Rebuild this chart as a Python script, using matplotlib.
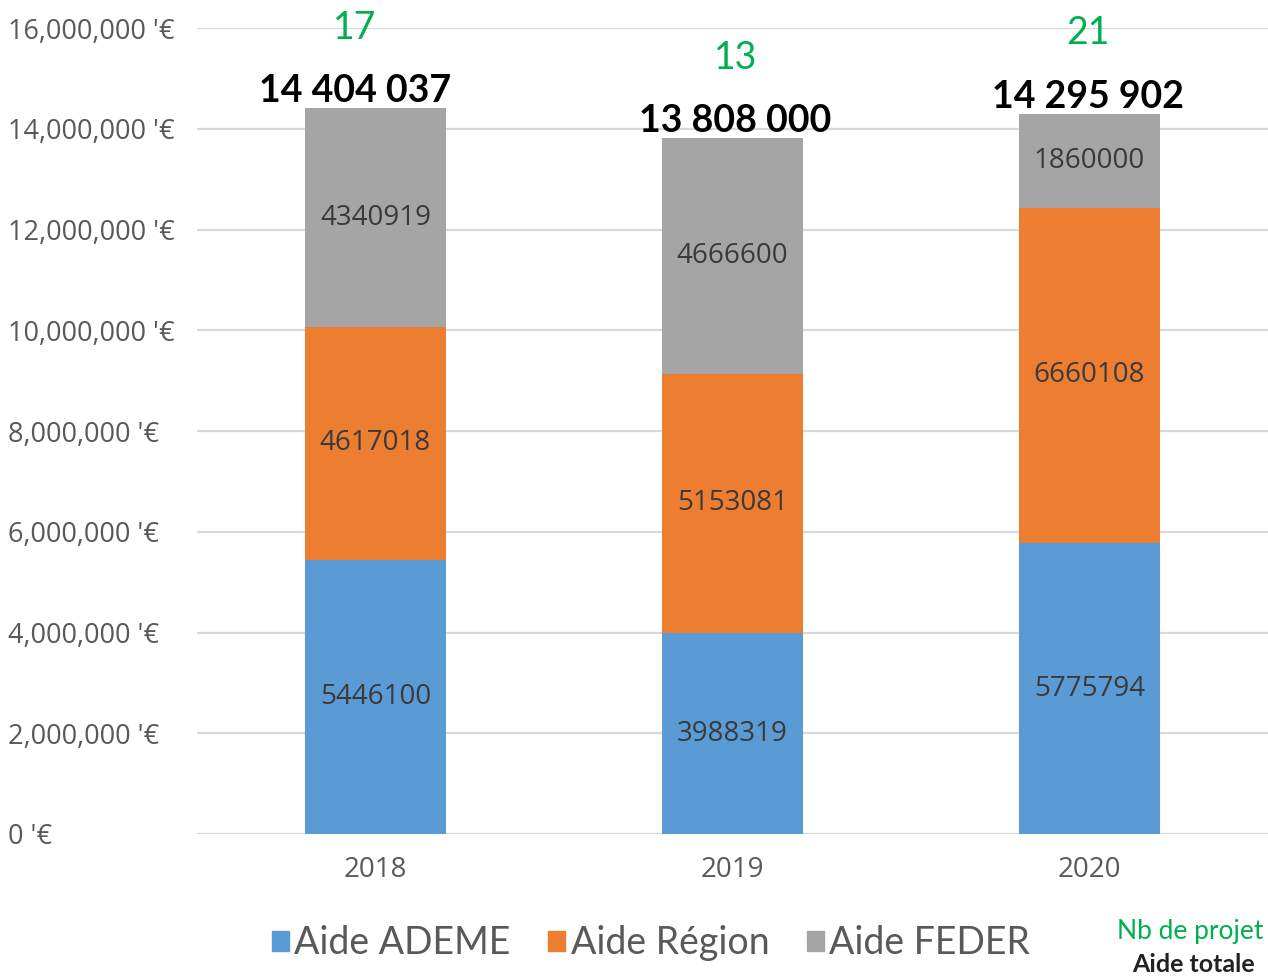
import matplotlib.pyplot as plt
from matplotlib.patches import Patch

years = ["2018", "2019", "2020"]
ademe = [5446100, 3988319, 5775794]
region = [4617018, 5153081, 6660108]
feder = [4340919, 4666600, 1860000]
nb_projets = [17, 13, 21]
total_labels = ["14 404 037", "13 808 000", "14 295 902"]
yticks = [0, 2000000, 4000000, 6000000, 8000000, 10000000, 12000000, 14000000, 16000000]

blue = "#5B9BD5"
orange = "#ED7D31"
grey = "#A5A5A5"
green = "#00B050"
txt = "#595959"

fig = plt.figure(figsize=(12.68, 9.76), dpi=100)
ax = fig.add_axes([197 / 1268, 1 - 834 / 976, 1 - 197 / 1268, (834 - 28) / 976])

x = list(range(len(years)))
w = 0.395
b1 = ax.bar(x, ademe, w, color=blue, zorder=3)
bottom2 = ademe
b2 = ax.bar(x, region, w, bottom=bottom2, color=orange, zorder=3)
bottom3 = [a + r for a, r in zip(ademe, region)]
b3 = ax.bar(x, feder, w, bottom=bottom3, color=grey, zorder=3)

# values inside the segments
for bars, vals in [(b1, ademe), (b2, region), (b3, feder)]:
    ax.bar_label(bars, labels=[str(v) for v in vals], label_type="center",
                 fontsize=20, color="#3A3A3A", family="Open Sans")

# totals and project counts above bars
shift = [-15, 2, -1]
for i in x:
    top = bottom3[i] + feder[i]
    ax.annotate(total_labels[i], (i, top), xytext=(shift[i], 0),
                textcoords="offset points", ha="center", va="bottom",
                fontsize=27, fontweight="bold", family="Lato", color="black",
                annotation_clip=False)
    ax.annotate(str(nb_projets[i]), (i, top), xytext=(shift[i], 45),
                textcoords="offset points", ha="center", va="bottom",
                fontsize=27, family="Lato", color=green, annotation_clip=False)

ax.set_xlim(-0.5, 2.5)
ax.set_ylim(0, 16000000)
ax.set_yticks(yticks)
ax.set_yticklabels([f"{v:,} '€" for v in yticks])
ax.set_xticks(x)
ax.set_xticklabels(years)
for lab in ax.get_yticklabels():
    lab.set_ha("left")
    lab.set_family("Open Sans")
for lab in ax.get_xticklabels():
    lab.set_family("Open Sans")
ax.tick_params(axis="y", length=0, pad=136, labelsize=19.5, labelcolor=txt)
ax.tick_params(axis="x", length=0, pad=16, labelsize=20, labelcolor=txt)
ax.grid(axis="y", color="#D9D9D9", linewidth=1.6, zorder=0)
for s in ax.spines.values():
    s.set_visible(False)

handles = [Patch(color=blue, label="Aide ADEME"),
           Patch(color=orange, label="Aide Région"),
           Patch(color=grey, label="Aide FEDER")]
fig.legend(handles=handles, loc="center", bbox_to_anchor=(651 / 1268, 1 - 943 / 976),
           ncol=3, frameon=False, handlelength=0.45, handleheight=0.45,
           handletextpad=0.15, columnspacing=1.0,
           prop={"family": "Lato", "size": 27}, labelcolor=txt)

fig.text(1190 / 1268, 1 - 932 / 976, "Nb de projet", color=green, fontsize=19,
         family="Lato", ha="center", va="center")
fig.text(1193 / 1268, 1 - 965 / 976, "Aide totale", color="#222222", fontsize=18,
         fontweight="bold", family="Lato", ha="center", va="center")

fig.savefig("out.png", dpi=100)
